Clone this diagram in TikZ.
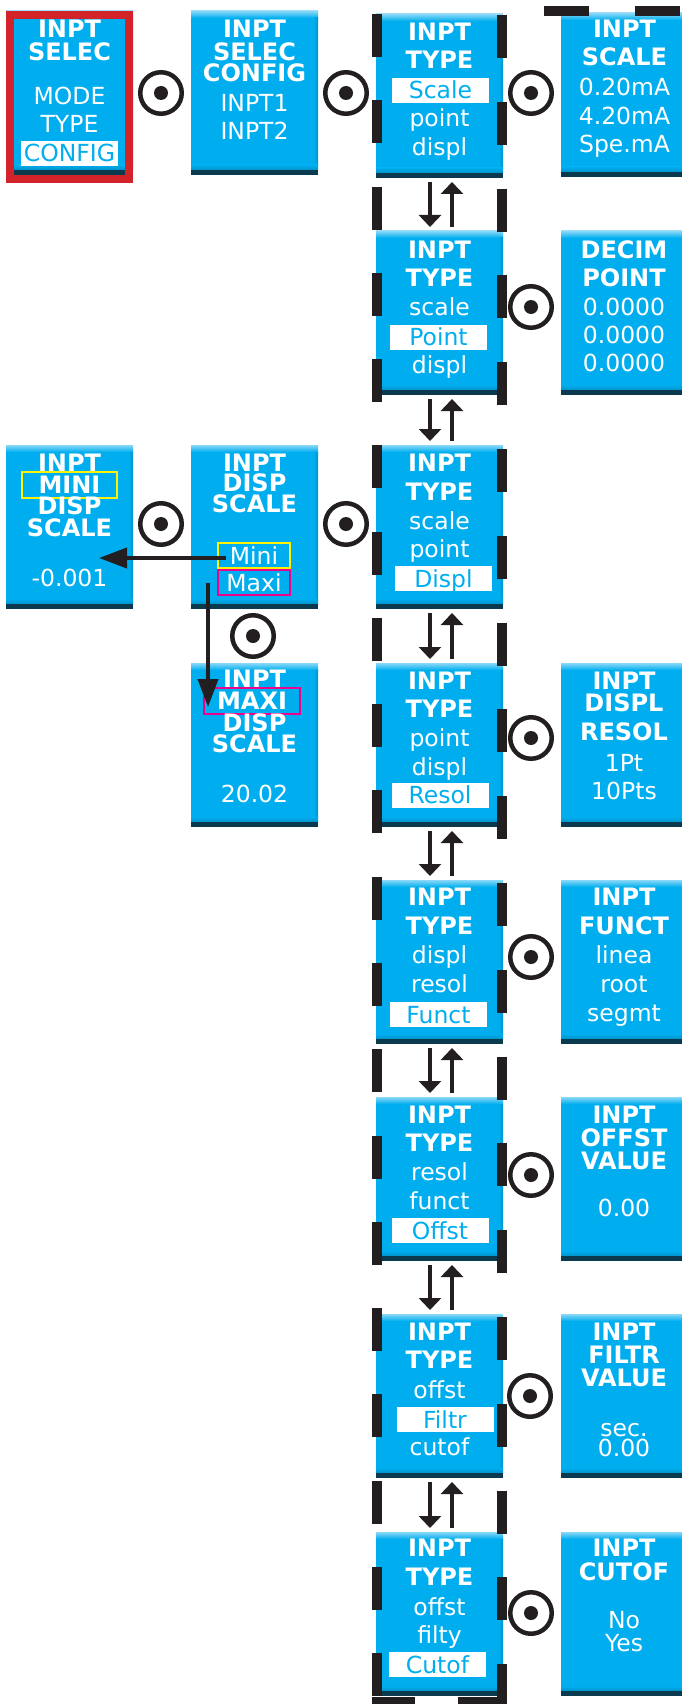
\documentclass[tikz,border=0pt]{standalone}
\usepackage{fontspec}
\setmainfont{DejaVu Sans}
\usetikzlibrary{arrows.meta}
\definecolor{pblue}{HTML}{00AEEF}
\definecolor{plight}{HTML}{8AD8F7}
\definecolor{pdark}{HTML}{0B3A4E}
\definecolor{pshade}{HTML}{0092C8}
\definecolor{ink}{HTML}{231F20}
\definecolor{fred}{HTML}{D2232A}
\definecolor{fyellow}{HTML}{FFF200}
\definecolor{fmag}{HTML}{EC008C}
\newcounter{tno}
\newcommand\Tb[3]{\stepcounter{tno}\node[btxt] (tx\thetno) at (#1,#2) {#3};}
\newcommand\Tr[3]{\stepcounter{tno}\node[rtxt] (tx\thetno) at (#1,#2) {#3};}
\newcommand\Hl[3]{\stepcounter{tno}\node[hlbox] (hl\thetno) at (#1,#2) {#3};}
\newcommand\Panel[3]{%
  \node[panel] (#1) at (#2,#3) {};
  \shade[top color=plight,bottom color=pblue] (#1.north west) rectangle ([yshift=-7pt]#1.north east);
  \shade[left color=pblue,right color=pshade] ([xshift=-4pt,yshift=-7pt]#1.north east) rectangle ([yshift=9pt]#1.south east);
  \shade[top color=pblue,bottom color=pshade] ([yshift=10pt]#1.south west) rectangle ([yshift=5pt]#1.south east);
  \fill[pdark] ([yshift=5pt]#1.south west) rectangle (#1.south east);
}
\tikzset{
  panel/.style={rectangle,fill=pblue,draw=none,minimum width=127pt,minimum height=164pt,anchor=north west,inner sep=0pt,outer sep=0pt},
  btxt/.style={text=white,inner sep=0pt,text height=17pt,text depth=0pt,font=\fontsize{24}{26}\selectfont\bfseries},
  rtxt/.style={text=white,inner sep=0pt,text height=17pt,text depth=0pt,font=\fontsize{23.5}{26}\selectfont},
  hlbox/.style={fill=white,text=pblue,inner sep=0pt,minimum width=97pt,minimum height=25pt,text height=17pt,text depth=0pt,font=\fontsize{23.5}{26}\selectfont},
  knob/.style={circle,draw=ink,line width=4.5pt,minimum size=41.5pt,inner sep=0pt,
    path picture={\fill[ink] (path picture bounding box.center) circle[radius=7pt];}},
  dashline/.style={draw=ink,line width=10pt},
  updown/.style={draw=ink,line width=4pt,-{Triangle[width=22pt,length=12pt]},shorten <=4pt,shorten >=4pt},
  bigarrow/.style={draw=ink,line width=4pt,-{Triangle[width=20pt,length=28pt]}},
  tagbox/.style={line width=2.5pt,inner sep=0pt,text height=17pt,text depth=0pt}
}
\begin{document}
\begin{tikzpicture}[x=1pt,y=-1pt]
\useasboundingbox (0,0) rectangle (682,1704);
\clip (0,0) rectangle (682,1704);
% ---------- left / top panels
\Panel{b1}{6}{11}
\Tb{69.5}{29}{INPT}\Tb{69.5}{52}{SELEC}
\Tr{69.5}{96}{MODE}\Tr{69.5}{124}{TYPE}
\Hl{69.5}{153.5}{CONFIG}
\draw[fred,line width=8pt] ([xshift=4pt,yshift=-4pt]b1.north west) rectangle ([xshift=-4pt,yshift=-4pt]b1.south east);
\Panel{b2}{191}{11}
\Tb{254.5}{29}{INPT}\Tb{254.5}{52}{SELEC}\Tb{254.5}{73}{CONFIG}
\Tr{254.5}{103}{INPT1}\Tr{254.5}{131}{INPT2}
% ---------- middle column
\Panel{m1}{376}{14}
\Tb{439.5}{32}{INPT}\Tb{439.5}{60}{TYPE}
\Hl{440.5}{90.5}{Scale}\Tr{439.5}{118}{point}\Tr{439.5}{147}{displ}
\Panel{m2}{376}{231}
\Tb{439.5}{250}{INPT}\Tb{439.5}{278}{TYPE}
\Tr{439.5}{307}{scale}\Hl{438.5}{337}{Point}\Tr{439.5}{365}{displ}
\Panel{m3}{376}{445}
\Tb{439.5}{463}{INPT}\Tb{439.5}{492}{TYPE}
\Tr{439.5}{521}{scale}\Tr{439.5}{549}{point}\Hl{443.5}{578.5}{Displ}
\Panel{m4}{376}{663}
\Tb{439.5}{681}{INPT}\Tb{439.5}{709}{TYPE}
\Tr{439.5}{738}{point}\Tr{439.5}{767}{displ}\Hl{440}{795}{Resol}
\Panel{m5}{376}{880}
\Tb{439.5}{897}{INPT}\Tb{439.5}{926}{TYPE}
\Tr{439.5}{955}{displ}\Tr{439.5}{984}{resol}\Hl{438.5}{1014.5}{Funct}
\Panel{m6}{376}{1097}
\Tb{439.5}{1115}{INPT}\Tb{439.5}{1143}{TYPE}
\Tr{439.5}{1172}{resol}\Tr{439.5}{1201}{funct}\Hl{440}{1230.5}{Offst}
\Panel{m7}{376}{1314}
\Tb{439.5}{1332}{INPT}\Tb{439.5}{1360}{TYPE}
\Tr{439.5}{1390}{offst}\Hl{445}{1419.5}{Filtr}\Tr{439.5}{1447}{cutof}
\Panel{m8}{376}{1532}
\Tb{439.5}{1548}{INPT}\Tb{439.5}{1577}{TYPE}
\Tr{439.5}{1607}{offst}\Tr{439.5}{1635}{filty}\Hl{437.5}{1664.5}{Cutof}
% ---------- right column
\Panel{r1}{561}{13}
\Tb{624.5}{29}{INPT}\Tb{624.5}{57}{SCALE}
\Tr{624.5}{87}{0.20mA}\Tr{624.5}{116}{4.20mA}\Tr{624.5}{144}{Spe.mA}
\Panel{r2}{561}{231}
\Tb{624}{250}{DECIM}\Tb{624}{278}{POINT}
\Tr{624}{307}{0.0000}\Tr{624}{335}{0.0000}\Tr{624}{363}{0.0000}
\Panel{r4}{561}{663}
\Tb{624}{681}{INPT}\Tb{624}{703}{DISPL}\Tb{624}{732}{RESOL}
\Tr{624}{763}{1Pt}\Tr{624}{791}{10Pts}
\Panel{r5}{561}{880}
\Tb{624}{897}{INPT}\Tb{624}{926}{FUNCT}
\Tr{624}{955}{linea}\Tr{624}{984}{root}\Tr{624}{1013}{segmt}
\Panel{r6}{561}{1097}
\Tb{624}{1115}{INPT}\Tb{624}{1138}{OFFST}\Tb{624}{1161}{VALUE}
\Tr{624}{1208}{0.00}
\Panel{r7}{561}{1314}
\Tb{624}{1332}{INPT}\Tb{624}{1355}{FILTR}\Tb{624}{1378}{VALUE}
\Tr{624}{1428}{sec.}\Tr{624}{1448}{0.00}
\Panel{r8}{561}{1532}
\Tb{624}{1548}{INPT}\Tb{624}{1572}{CUTOF}
\Tr{624}{1620}{No}\Tr{624}{1643}{Yes}
% ---------- display scale branch
\Panel{mini}{6}{445}
\Tb{69.5}{463}{INPT}
\node[tagbox,draw=fyellow,minimum width=95pt,minimum height=26pt,text=white,font=\fontsize{24}{26}\selectfont\bfseries] (minitag) at (69.5,485) {MINI};
\Tb{69.5}{506}{DISP}\Tb{69.5}{528}{SCALE}
\Tr{69.5}{578}{-0.001}
\Panel{disp}{191}{445}
\Tb{254.5}{463}{INPT}\Tb{254.5}{483}{DISP}\Tb{254.5}{504}{SCALE}
\node[tagbox,draw=fyellow,minimum width=72pt,minimum height=25pt,text=white,font=\fontsize{23.5}{26}\selectfont] (mitag) at (254,555.5) {Mini};
\node[tagbox,draw=fmag,minimum width=72pt,minimum height=25pt,text=white,font=\fontsize{23.5}{26}\selectfont] (matag) at (254,582.5) {Maxi};
\Panel{maxi}{191}{663}
\Tb{254.5}{679}{INPT}
\node[tagbox,draw=fmag,minimum width=96pt,minimum height=26pt,text=white,font=\fontsize{24}{26}\selectfont\bfseries] (maxitag) at (252,701) {MAXI};
\Tb{254.5}{723}{DISP}\Tb{254.5}{744}{SCALE}
\Tr{254.5}{794}{20.02}
% ---------- dashed frame
\draw[dashline,dash pattern=on 43pt off 43.27pt] (377,14) -- (377,1704);
\draw[dashline,dash pattern=on 43pt off 43.8pt] (502,15) -- (502,1704);
\draw[dashline] (372,1702) -- (415,1702);
\draw[dashline] (458,1702) -- (503,1702);
\draw[dashline] (544,11) -- (589,11);
\draw[dashline] (635,11) -- (680,11);
% ---------- knobs
\node[knob] (k1) at (161,93) {};
\node[knob] (k2) at (346,93) {};
\node[knob] (k3) at (531,93) {};
\node[knob] (k4) at (531,307) {};
\node[knob] (k5) at (161,524) {};
\node[knob] (k6) at (346,524) {};
\node[knob] (k7) at (253,636) {};
\node[knob] (k8) at (531,738) {};
\node[knob] (k9) at (531,957) {};
\node[knob] (k10) at (531,1175) {};
\node[knob] (k11) at (530,1396) {};
\node[knob] (k12) at (531,1613) {};
% ---------- up/down arrows
\foreach \a/\b in {m1/m2,m2/m3,m3/m4,m4/m5,m5/m6,m6/m7,m7/m8}{
  \draw[updown] ([xshift=-9.5pt]\a.south) -- ([xshift=-9.5pt]\b.north);
  \draw[updown] ([xshift=12.5pt]\b.north) -- ([xshift=12.5pt]\a.south);
}
% ---------- mini / maxi arrows
\coordinate (mtip) at (99,558);
\draw[bigarrow] ([xshift=9pt,yshift=-2.5pt]mitag.west) -- (mtip);
\coordinate (dstart) at (208,583);
\coordinate (dtip) at (208,707);
\draw[bigarrow] (dstart) -- (dtip);
\end{tikzpicture}
\end{document}
